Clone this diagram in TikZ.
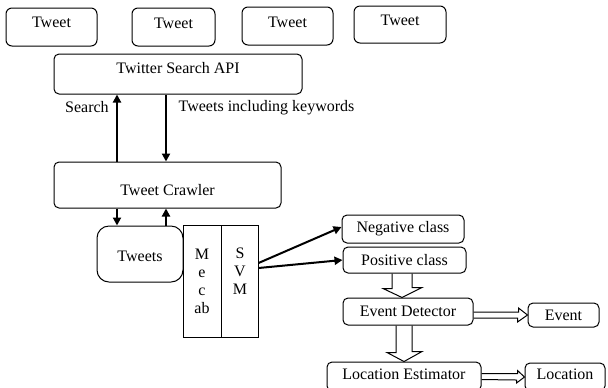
\documentclass[tikz,border=0pt]{standalone}
\usepackage{fontspec}
\setmainfont{Liberation Serif}
\usetikzlibrary{fit,calc,arrows.meta}
\tikzset{
  box/.style={draw, line width=0.5pt, inner sep=0pt},
  rbox/.style={box, rounded corners=2.5pt},
  tbox/.style={box, rounded corners=3pt},
  arr/.style={line width=1pt, -{Triangle[length=4pt,width=4pt]}},
  hollow/.style={draw, line width=0.5pt, line join=miter},
}
\begin{document}
\begin{tikzpicture}[x=0.5pt, y=-0.5pt, font=\fontsize{8}{9}\selectfont]
\useasboundingbox (0,0) rectangle (608,387);
\fill[white] (0,0) rectangle (608,387);
\clip (0,0) rectangle (608,387);

% top tweets
\node[tbox, fit={(6,8)(97,46)}, label={[yshift=2.5pt]center:Tweet}] (t1) {};
\node[tbox, fit={(132,8)(215,46)}, label={[yshift=2pt]center:Tweet}] (t2) {};
\node[tbox, fit={(242,7)(333,45)}, label={[yshift=2pt]center:Tweet}] (t3) {};
\node[tbox, fit={(354,6)(446,43)}, label={[yshift=2.2pt]center:Tweet}] (t4) {};

% API and crawler
\node[rbox, fit={(54,54)(302,94)}, label={[yshift=3.2pt]center:Twitter Search API}] (api) {};
\node[rbox, fit={(54,162)(281,208)}, label={[yshift=-2.5pt]center:Tweet Crawler}] (crawler) {};

% tweets, mecab, svm
\node[box, rounded corners=6pt, fit={(97,226)(183,282)}, label={[yshift=-1pt]center:Tweets}] (tweets) {};
\node[box, fit={(183,225)(221,337)}] (mecab) {};
\node[box, fit={(221,225)(258,337)}] (svm) {};
\node[align=center, inner sep=0pt] (mecabt) at (202,281) {M\\e\\c\\ab};
\node[align=center, inner sep=0pt] (svmt) at (240,271) {S\\V\\M};

% classes
\node[rbox, fit={(342,215)(464,243)}, label={center:Negative class}] (neg) {};
\node[rbox, fit={(343,247)(466,273)}, label={center:Positive class}] (pos) {};
\node[rbox, fit={(343,298)(473,325)}, label={center:Event Detector}] (ed) {};
\node[rbox, fit={(528,303)(599,327)}, label={center:Event}] (ev) {};
\node[rbox, fit={(327,362)(481,391)}, label={[yshift=1.2pt]center:Location Estimator}] (le) {};
\node[rbox, fit={(525,363)(605,391)}, label={[yshift=1.2pt]center:Location}] (loc) {};

% crawler <-> api
\draw[arr] (crawler.north) ++(-50.5,0) coordinate (s1) -- (s1 |- api.south)
  node[pos=0.81, left, xshift=-0.3pt] (searchlbl) {Search};
\draw[arr] (api.south) ++(-12,0) coordinate (s2) -- (s2 |- crawler.north)
  node[pos=0.19, right, xshift=2.5pt] (kwlbl) {Tweets including keywords};

% crawler <-> tweets
\draw[arr] (crawler.south) ++(-50.5,0) coordinate (s3) -- (s3 |- tweets.north);
\draw[arr] (tweets.north) ++(26,0) coordinate (s4) -- (s4 |- crawler.south);

% svm -> classes
\draw[arr] ($(svm.east)+(0,-18)$) -- ($(neg.west)+(0,-2)$);
\draw[arr] ($(svm.east)+(0,-13)$) -- (pos.west);

% hollow arrows
\draw[hollow] ($(pos.south)+(-12.5,0)$) -- ++(0,15) -- ++(-9,0) -- ($(ed.north)+(-6,0)$)
  -- ++(20,-10) -- ++(-10,0) -- ($(pos.south)+(7.5,0)$);
\draw[hollow] ($(ed.south)+(-12,0)$) -- ++(0,27) -- ++(-9,0) -- (le.north)
  -- ++(18,-10) -- ++(-10,0) -- ($(ed.south)+(4,0)$);
\draw[hollow] ($(ed.east)+(0,0.5)$) -- ++(45,0) -- ++(0,-4) -- (ev.west)
  -- ++(-10,7) -- ++(0,-4) -- ($(ed.east)+(0,6.5)$);
\draw[hollow] ($(le.east)+(0,-3)$) -- ++(36,0) -- ++(0,-3) -- (loc.west)
  -- ++(-8,6) -- ++(0,-3) -- ($(le.east)+(0,3)$);
\end{tikzpicture}
\end{document}
